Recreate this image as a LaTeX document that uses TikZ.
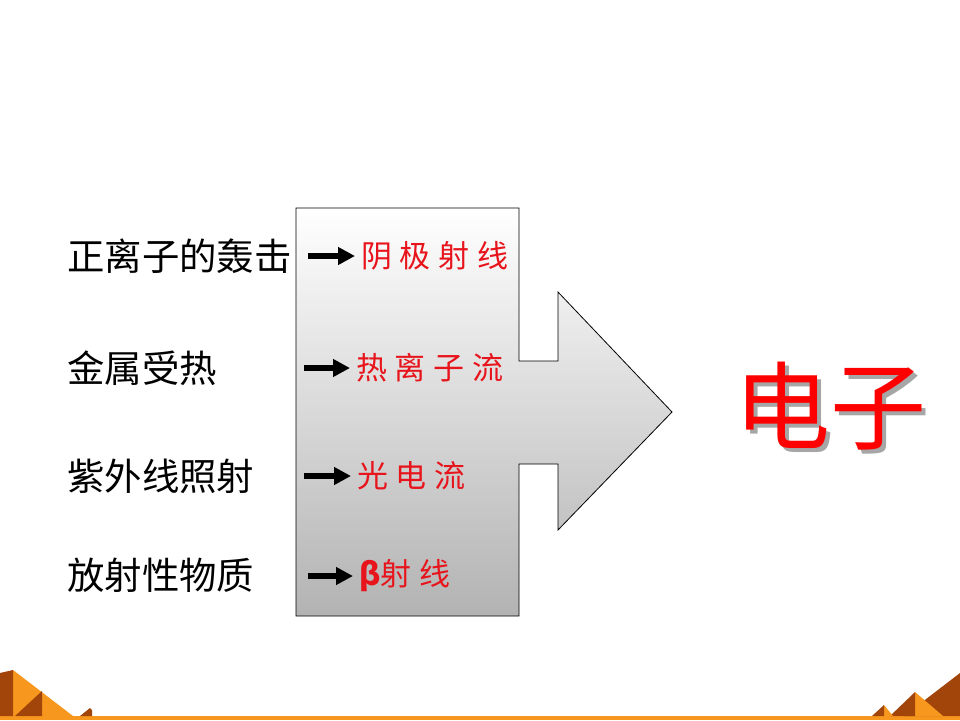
\documentclass[tikz,border=0pt]{standalone}
\usepackage{fontspec}
\usetikzlibrary{arrows.meta}
\newfontfamily\cjk{Noto Sans CJK SC}
\newfontfamily\cjkwide[LetterSpace=25]{Noto Sans CJK SC}
\definecolor{pyrorange}{HTML}{F7971E}
\definecolor{pyrbrown}{HTML}{A1450A}
\definecolor{labelred}{HTML}{E8141C}

\begin{document}
\begin{tikzpicture}[x=1pt, y=-1pt,
  source/.style={anchor=west, inner sep=0pt, font=\cjk\fontsize{37.4}{41}\selectfont},
  result/.style={anchor=west, inner xsep=6pt, inner ysep=0pt, text=labelred,
    font=\cjkwide\fontsize{31}{35}\selectfont},
  feed/.style={line width=6pt, -{Triangle[length=17pt, width=17pt]}}]
\useasboundingbox[fill=white] (0,0) rectangle (960,720);
% box and big arrow
\draw[line width=0.8pt, top color=white, bottom color=gray!60]
  (296,208) -- (519,208) -- (519,361) -- (558,361) -- (558,292) -- (672,412)
  -- (558,530) -- (558,464) -- (519,464) -- (519,616) -- (296,616) -- cycle;
% left labels
\node[source] (s1) at (67,256) {正离子的轰击};
\node[source] (s2) at (67,368) {金属受热};
\node[source] (s3) at (67,476) {紫外线照射};
\node[source] (s4) at (67,575) {放射性物质};
% right labels
\node[result] (r1) at (355,256) {阴极射线};
\node[result] (r2) at (350,368) {热离子流};
\node[result] (r3) at (351,476) {光电流};
\node[result] (r4) at (353,576) {{\cjk\bfseries β}射线};
\coordinate (a1) at (308,256);
\coordinate (a2) at (304,368);
\coordinate (a3) at (304,476);
\coordinate (a4) at (308,576);
\draw[feed] (a1) -- (r1.west);
\draw[feed] (a2) -- (r2.west);
\draw[feed] (a3) -- (r3.west);
\draw[feed] (a4) -- (r4.west);
% electron, with its shadow
\node[text=gray!70, font=\cjk\fontsize{96}{100}\selectfont] (eshadow) at (834,410) {电子};
\node[text=red, font=\cjk\fontsize{96}{100}\selectfont] (e) at (830,406) {电子};
% bottom decoration
\fill[pyrorange] (0,716) rectangle (960,720);
\fill[pyrorange] (13,670) -- (73,716) -- (13,716) -- cycle;
\fill[pyrbrown] (0,716) -- (0,673) -- (13,670) -- (13,716) -- cycle;
\fill[pyrbrown] (15,716) -- (42,691) -- (42,716) -- cycle;
\fill[pyrbrown] (80,716) -- (90,708) -- (92,710) -- (92,716) -- cycle;
\fill[pyrbrown] (904,716) -- (960,673) -- (960,716) -- cycle;
\fill[pyrorange] (915,692) -- (943,716) -- (915,716) -- cycle;
\fill[pyrbrown] (890,716) -- (915,692) -- (915,716) -- cycle;
\fill[pyrorange] (884,705) -- (893,716) -- (884,716) -- cycle;
\fill[pyrbrown] (872,716) -- (884,705) -- (884,716) -- cycle;
\end{tikzpicture}
\end{document}
